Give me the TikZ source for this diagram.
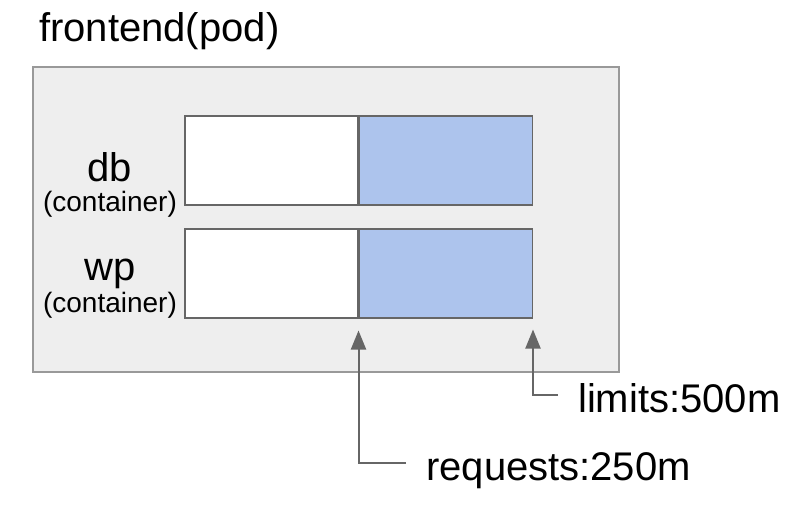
\documentclass[tikz,border=0pt]{standalone}
\usepackage{fontspec}
\setmainfont{Liberation Sans}
\usepackage{xcolor}
\usetikzlibrary{arrows.meta,positioning}
\definecolor{podgray}{HTML}{EEEEEE}
\definecolor{edgegray}{HTML}{999999}
\definecolor{linegray}{HTML}{666666}
\definecolor{limblue}{HTML}{ADC4ED}

\begin{document}
\begin{tikzpicture}[
    x=1pt, y=-1pt,
    pod/.style={rectangle, draw=edgegray, line width=2pt, fill=podgray, minimum width=586pt, minimum height=305pt, inner sep=0pt},
    request/.style={rectangle, draw=linegray, line width=1.5pt, fill=white, minimum width=173pt, minimum height=89pt, inner sep=0pt},
    limit/.style={request, fill=limblue},
    title/.style={font=\fontsize{40}{44}\selectfont, inner sep=0pt},
    cname/.style={font=\fontsize{40}{44}\selectfont, inner sep=0pt},
    csub/.style={font=\fontsize{28}{30}\selectfont, inner sep=0pt},
    pointer/.style={draw=linegray, line width=2pt, -{Triangle[length=19pt,width=15pt]}}
]
\useasboundingbox (0,0) rectangle (810,508);

% Title
\node[title, anchor=base west] (podtitle) at (39,42) {frontend(pod)};

% Pod
\node[pod, anchor=north west] (pod) at (32,66) {};

% Containers
\node[request, anchor=north west] (dbreq) at (184,115) {};
\node[limit, right=0pt of dbreq] (dblim) {};
\node[request, anchor=north west] (wpreq) at (184,228) {};
\node[limit, right=0pt of wpreq] (wplim) {};

% Container names
\node[cname, anchor=base] (dbname) at (110,181) {db};
\node[csub, anchor=base] (dbsub) at (110,211) {(container)};
\node[cname, anchor=base] (wpname) at (110,280) {wp};
\node[csub, anchor=base] (wpsub) at (110,312) {(container)};

% Requests and limits
\node[title, anchor=base west] (limlabel) at (578,412) {limits:500m};
\node[title, anchor=base west] (reqlabel) at (426,480) {requests:250m};
\coordinate (limtip) at ([yshift=-11pt]wplim.south east);
\coordinate (reqtip) at ([yshift=-12pt]wpreq.south east);
\draw[pointer] ([shift={(-20pt,17pt)}]limlabel.base west) -| (limtip);
\draw[pointer] ([shift={(-20pt,17pt)}]reqlabel.base west) -| (reqtip);

\end{tikzpicture}
\end{document}
